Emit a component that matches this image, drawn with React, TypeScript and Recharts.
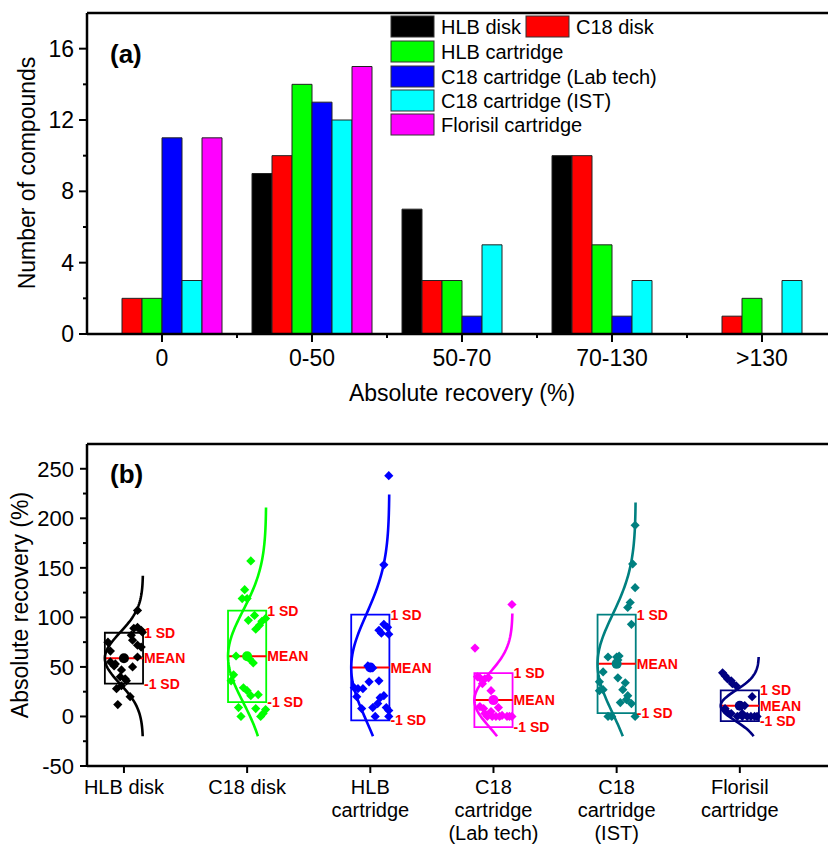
import React from "react";
import {
  BarChart,
  Bar,
  ComposedChart,
  Scatter,
  XAxis,
  YAxis,
  ReferenceLine,
  ReferenceArea,
} from "recharts";

const FONT = "'Liberation Sans', Arial, Helvetica, sans-serif";

// ---- panel (a): number of compounds per recovery bin ----
const recoveryBins = ["0", "0-50", "50-70", "70-130", ">130"];
const seriesNames = [
  "HLB disk",
  "C18 disk",
  "HLB cartridge",
  "C18 cartridge (Lab tech)",
  "C18 cartridge (IST)",
  "Florisil cartridge",
];
const seriesColors = ["#000000", "#ff0000", "#00ff00", "#0000ff", "#00ffff", "#ff00ff"];
const hlbDiskCounts = [0, 9, 7, 10, 0];
const c18DiskCounts = [2, 10, 3, 10, 1];
const hlbCartCounts = [2, 14, 3, 5, 2];
const c18LabCounts = [11, 13, 1, 1, 0];
const c18IstCounts = [3, 12, 5, 3, 3];
const florisilCounts = [11, 15, 0, 0, 0];
const countTicks = [0, 2, 4, 6, 8, 10, 12, 14, 16];

const allCounts = [hlbDiskCounts, c18DiskCounts, hlbCartCounts, c18LabCounts, c18IstCounts, florisilCounts];
const barData = recoveryBins.map((bin, i) => {
  const row: Record<string, string | number> = { bin };
  allCounts.forEach((arr, k) => (row[`s${k}`] = arr[i]));
  return row;
});

// ---- panel (b): absolute recovery per method ----
const groupLabels = [
  ["HLB disk"],
  ["C18 disk"],
  ["HLB", "cartridge"],
  ["C18", "cartridge", "(Lab tech)"],
  ["C18", "cartridge", "(IST)"],
  ["Florisil", "cartridge"],
];
const groupColors = ["#000000", "#00ff00", "#0000ff", "#ff00ff", "#008080", "#000080"];
const groupMeans = [58.8, 60.7, 49.4, 16.5, 53.1, 10.8];
const groupSDs = [25.7, 46.2, 53.4, 27.2, 49.7, 15.5];
const curveBottoms = [-20, -20, -20, -20, -20, -20];
const curveTops = [142, 211, 224, 104, 216, 60];
const recoveryTicks = [-50, -25, 0, 25, 50, 75, 100, 125, 150, 175, 200, 225, 250];

// [x offset from group centre, recovery %]
const hlbDiskPts: [number, number][] = [
  [0.11, 107], [0.08, 89], [0.11, 90], [0.14, 87], [0.15, 85], [0.06, 82],
  [0.07, 77], [0.11, 72], [0.14, 70], [-0.13, 75], [-0.11, 66], [0.11, 60],
  [-0.11, 55], [-0.08, 51], [-0.07, 53], [-0.02, 47], [0.07, 50], [-0.03, 40],
  [0.01, 38], [0.02, 36], [-0.06, 28], [-0.02, 31], [0.05, 20], [-0.05, 12],
];
const c18DiskPts: [number, number][] = [
  [0.03, 157], [-0.02, 128], [-0.04, 119], [0, 119], [0.06, 102], [0.01, 97],
  [0.07, 88], [0.1, 92], [0.12, 96], [0.15, 99], [-0.09, 61], [0.02, 58],
  [0.05, 54], [-0.11, 42], [-0.13, 36], [-0.03, 29], [0, 26], [0.03, 21],
  [0.09, 22], [-0.07, 9], [0.07, 8], [-0.05, 0], [0.11, 0], [0.13, 3], [0.15, 7],
];
const hlbCartPts: [number, number][] = [
  [0.15, 243], [0.11, 153], [0.11, 93], [0.14, 90], [0.07, 87], [0.09, 84],
  [0.15, 83], [-0.02, 51], [0.02, 49], [-0.01, 35], [0.07, 36], [-0.13, 29],
  [-0.1, 28], [-0.06, 28], [-0.11, 20], [0.11, 21], [0.08, 19], [-0.07, 8],
  [0.02, 9], [0.06, 13], [0.13, 9], [0.15, 6], [0.04, 0], [0.15, 0],
];
const c18LabPts: [number, number][] = [
  [0.15, 113], [-0.15, 69], [-0.13, 40], [-0.11, 39], [-0.07, 38], [-0.04, 39],
  [-0.09, 33], [-0.02, 26], [-0.11, 10], [-0.08, 8], [0.04, 9], [-0.02, 5],
  [-0.07, 3], [-0.05, 0], [-0.01, 0], [0.02, 0], [0.05, 0], [0.07, 1],
  [0.11, 0], [0.13, 0], [0.15, 0],
];
const c18IstPts: [number, number][] = [
  [0.15, 193], [0.13, 154], [0.15, 130], [0.11, 115], [0.09, 110], [0.12, 93],
  [-0.07, 60], [0, 60], [0.02, 61], [0.01, 57], [-0.11, 45], [0.01, 39],
  [0.07, 34], [-0.14, 35], [-0.11, 27], [-0.14, 26], [0.05, 27], [0.09, 21],
  [0.08, 17], [0.03, 14], [0.12, 13], [-0.07, 0], [-0.04, 0], [0.15, 0],
];
const florisilPts: [number, number][] = [
  [-0.14, 44], [-0.12, 41], [-0.1, 38], [-0.07, 36], [-0.06, 33], [-0.03, 31],
  [0.1, 20], [0.04, 11], [-0.12, 8], [-0.1, 4], [-0.07, 3], [0.02, 3],
  [-0.02, 0], [0.02, 0], [0.06, 0], [0.09, 0], [0.12, 0], [0.14, 0],
];
const groupPoints = [hlbDiskPts, c18DiskPts, hlbCartPts, c18LabPts, c18IstPts, florisilPts];

const BOX_HALF = 0.155; // box half-width in category units

// normal-curve overlay from each group's mean and SD
function normalCurve(g: number) {
  const pts: { x: number; y: number }[] = [];
  const lo = curveBottoms[g];
  const hi = curveTops[g];
  const n = 80;
  for (let k = 0; k <= n; k++) {
    const y = lo + ((hi - lo) * k) / n;
    const z = (y - groupMeans[g]) / groupSDs[g];
    pts.push({ x: g + 1 + BOX_HALF - 2 * BOX_HALF * Math.exp(-0.5 * z * z), y });
  }
  return pts;
}

// ---- ticks ----
function CountTick(props: any) {
  const { x, y, payload } = props;
  const major = payload.value % 4 === 0;
  return (
    <g>
      <line x1={x} x2={x - (major ? 8 : 4)} y1={y} y2={y} stroke="#000" strokeWidth={2} />
      {major && (
        <text x={x - 13} y={y + 8} textAnchor="end" fontSize={23} fontFamily={FONT} fill="#000">
          {payload.value}
        </text>
      )}
    </g>
  );
}

function BinTick(props: any) {
  const { x, y, payload } = props;
  return (
    <g>
      <line x1={x} x2={x} y1={y} y2={y + 8} stroke="#000" strokeWidth={2} />
      <line x1={x + 75} x2={x + 75} y1={y} y2={y + 4} stroke="#000" strokeWidth={2} />
      <text x={x} y={y + 32} textAnchor="middle" fontSize={23} fontFamily={FONT} fill="#000">
        {payload.value}
      </text>
    </g>
  );
}

function RecoveryTick(props: any) {
  const { x, y, payload } = props;
  const major = payload.value % 50 === 0;
  return (
    <g>
      <line x1={x} x2={x - (major ? 7 : 4)} y1={y} y2={y} stroke="#000" strokeWidth={2} />
      {major && (
        <text x={x - 13} y={y + 8} textAnchor="end" fontSize={22} fontFamily={FONT} fill="#000">
          {payload.value}
        </text>
      )}
    </g>
  );
}

function GroupTick(props: any) {
  const { x, y, payload } = props;
  const lines = groupLabels[Math.round(payload.value) - 1] || [];
  return (
    <g>
      <line x1={x} x2={x} y1={y} y2={y + 7} stroke="#000" strokeWidth={2} />
      {lines.map((t, i) => (
        <text key={i} x={x} y={y + 28 + i * 23} textAnchor="middle" fontSize={20} fontFamily={FONT} fill="#000">
          {t}
        </text>
      ))}
    </g>
  );
}

const diamond = (color: string) => (p: any) =>
  (
    <path
      d={`M${p.cx},${p.cy - 4.6}L${p.cx + 4.6},${p.cy}L${p.cx},${p.cy + 4.6}L${p.cx - 4.6},${p.cy}Z`}
      fill={color}
    />
  );

const meanDot = (color: string) => (p: any) => <circle cx={p.cx} cy={p.cy} r={5} fill={color} />;

const sdLabel = (p: any) => (
  <text
    x={p.cx + 1}
    y={p.cy + 5}
    fontSize={14}
    fontWeight="bold"
    fontFamily={FONT}
    fill="#ff0000"
  >
    {p.payload.t}
  </text>
);

const axisStyle = { stroke: "#000", strokeWidth: 2.5 };

export default function App() {
  const legendRows = [16, 41, 66, 90, 114];
  const legendPos: [number, number][] = [
    [391, 0],
    [526, 0],
    [391, 1],
    [391, 2],
    [391, 3],
    [391, 4],
  ];

  return (
    <div
      style={{
        position: "fixed",
        left: 0,
        top: 0,
        width: 828,
        height: 845,
        overflow: "hidden",
        background: "#fff",
        fontFamily: FONT,
      }}
    >
      <div style={{ position: "absolute", left: 0, top: 0 }}>
        <BarChart
          width={837}
          height={420}
          data={barData}
          margin={{ top: 13, right: 0, bottom: 0, left: 0 }}
          barCategoryGap="10%"
          barGap={0}
        >
          <XAxis
            dataKey="bin"
            height={86}
            axisLine={axisStyle}
            tickLine={false}
            tickSize={0}
            tickMargin={0}
            interval={0}
            tick={(p: any) => <BinTick {...p} />}
          />
          <YAxis
            width={87}
            domain={[0, 18]}
            ticks={countTicks}
            interval={0}
            axisLine={axisStyle}
            tickLine={false}
            tickSize={0}
            tickMargin={0}
            tick={(p: any) => <CountTick {...p} />}
          />
          <ReferenceLine y={18} stroke="#000" strokeWidth={2.5} />
          {seriesNames.map((n, k) => (
            <Bar
              key={n}
              dataKey={`s${k}`}
              name={n}
              fill={seriesColors[k]}
              stroke="#222"
              strokeWidth={1}
              isAnimationActive={false}
            />
          ))}
        </BarChart>
      </div>

      <div style={{ position: "absolute", left: 0, top: 420 }}>
        <ComposedChart width={863} height={425} margin={{ top: 24, right: 0, bottom: 0, left: 0 }}>
          <XAxis
            type="number"
            dataKey="x"
            domain={[0.7, 7]}
            ticks={[1, 2, 3, 4, 5, 6]}
            allowDataOverflow
            interval={0}
            height={79}
            axisLine={axisStyle}
            tickLine={false}
            tickSize={0}
            tickMargin={0}
            tick={(p: any) => <GroupTick {...p} />}
          />
          <YAxis
            type="number"
            dataKey="y"
            domain={[-50, 275]}
            ticks={recoveryTicks}
            allowDataOverflow
            interval={0}
            width={87}
            axisLine={axisStyle}
            tickLine={false}
            tickSize={0}
            tickMargin={0}
            tick={(p: any) => <RecoveryTick {...p} />}
          />
          <ReferenceLine y={275} stroke="#000" strokeWidth={2.5} />
          {groupLabels.map((_, g) => {
            const c = groupColors[g];
            const m = groupMeans[g];
            const s = groupSDs[g];
            const cx = g + 1;
            return (
              <React.Fragment key={g}>
                <ReferenceArea
                  x1={cx - BOX_HALF}
                  x2={cx + BOX_HALF}
                  y1={m - s}
                  y2={m + s}
                  fill="none"
                  fillOpacity={0}
                  stroke={c}
                  strokeWidth={1.8}
                  strokeOpacity={1}
                />
                <Scatter
                  data={normalCurve(g)}
                  fill={c}
                  line={{ stroke: c, strokeWidth: 2.6 }}
                  shape={() => <g />}
                  isAnimationActive={false}
                />
                <Scatter
                  data={groupPoints[g].map(([dx, v]) => ({ x: cx + dx, y: v }))}
                  fill={c}
                  shape={diamond(c)}
                  isAnimationActive={false}
                />
                <ReferenceLine
                  segment={[
                    { x: cx - BOX_HALF, y: m },
                    { x: cx + BOX_HALF, y: m },
                  ]}
                  stroke="#ff0000"
                  strokeWidth={2}
                />
                <Scatter data={[{ x: cx, y: m }]} fill={c} shape={meanDot(c)} isAnimationActive={false} />
                <Scatter
                  data={[
                    { x: cx + BOX_HALF, y: m + s, t: "1 SD" },
                    { x: cx + BOX_HALF, y: m, t: "MEAN" },
                    { x: cx + BOX_HALF, y: m - s, t: "-1 SD" },
                  ]}
                  fill="#ff0000"
                  shape={sdLabel}
                  isAnimationActive={false}
                />
              </React.Fragment>
            );
          })}
        </ComposedChart>
      </div>

      <svg
        width={828}
        height={845}
        style={{ position: "absolute", left: 0, top: 0, pointerEvents: "none" }}
        fontFamily={FONT}
      >
        <text x={110} y={63} fontSize={26} fontWeight="bold">(a)</text>
        <text x={110} y={483} fontSize={26} fontWeight="bold">(b)</text>
        <text transform="rotate(-90)" x={-173} y={35} fontSize={23} textAnchor="middle">
          Number of compounds
        </text>
        <text x={462} y={401} fontSize={23} textAnchor="middle">
          Absolute recovery (%)
        </text>
        <text transform="rotate(-90)" x={-605} y={28} fontSize={23} textAnchor="middle">
          Absolute recovery (%)
        </text>
        {seriesNames.map((n, k) => {
          const [lx, r] = legendPos[k];
          const top = legendRows[r];
          return (
            <g key={n}>
              <rect x={lx} y={top} width={43} height={21} fill={seriesColors[k]} stroke="#333" strokeWidth={1} />
              <text x={lx + 50} y={top + 18} fontSize={20}>
                {n}
              </text>
            </g>
          );
        })}
      </svg>
    </div>
  );
}
